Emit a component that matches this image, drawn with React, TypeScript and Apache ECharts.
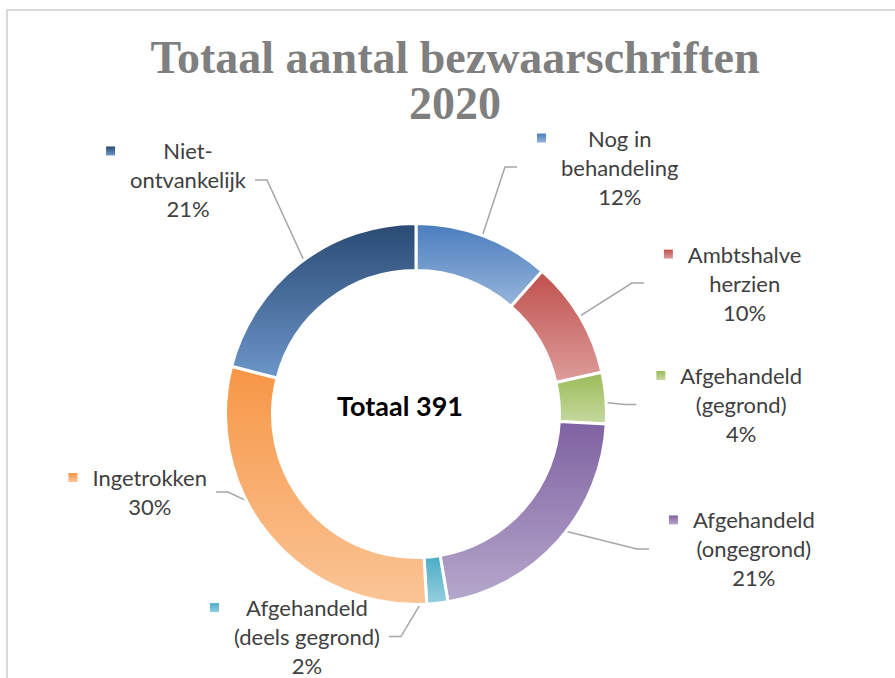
import React, { useEffect, useRef } from 'react';
import * as echarts from 'echarts';

// ---- data ----
const categories = [
  'Nog in\nbehandeling',
  'Ambtshalve\nherzien',
  'Afgehandeld\n(gegrond)',
  'Afgehandeld\n(ongegrond)',
  'Afgehandeld\n(deels gegrond)',
  'Ingetrokken',
  'Niet-\nontvankelijk',
];
const values = [45, 39, 17, 84, 7, 117, 82];
const titleLine1 = 'Totaal aantal bezwaarschriften';
const titleLine2 = '2020';
const centerWord = 'Totaal';

// ---- styles ----
const topColors = ['#4a7dbe', '#c0504d', '#9bbb59', '#7f62a2', '#4bacc6', '#f79646', '#2a4a73'];
const bottomColors = ['#97b5db', '#dd9d9b', '#c6d99f', '#b6a8cc', '#95cfde', '#fac597', '#6c95c9'];

// label-line geometry (distance along the slice's mid direction, horizontal shift, side)
const labelRadius = [264, 257, 113, 203, 224, 123, 296];
const labelShift = [7.6, 6.7, 107.7, 81.3, -52.2, -104.9, 20.2];
const labelSide = [1, 1, 1, 1, -1, -1, -1];

const CX = 416;
const CY = 414;
const R_IN = 143.5;
const R_OUT = 190.5;
const R_MID = 167;

const grad = (i: number) => ({
  type: 'linear',
  x: 0,
  y: 0,
  x2: 0,
  y2: 1,
  colorStops: [
    { offset: 0, color: topColors[i] },
    { offset: 1, color: bottomColors[i] },
  ],
});

export default function App() {
  const ref = useRef<HTMLDivElement>(null);

  useEffect(() => {
    if (!ref.current) return;
    const chart = echarts.init(ref.current, undefined, { renderer: 'svg' });
    const total = values.reduce((a, b) => a + b, 0);
    const pct = values.map((v) => Math.round((v / total) * 100));

    const rich: any = {
      t: {
        fontFamily: 'Lato',
        fontSize: 22,
        color: '#404040',
        lineHeight: 29,
        align: 'center',
      },
      g: { width: 15, align: 'left', lineHeight: 29 },
      p: { width: 24, align: 'left', lineHeight: 29 },
    };
    values.forEach((_, i) => {
      rich['m' + i] = {
        width: 9,
        height: 9,
        align: 'left',
        lineHeight: 29,
        backgroundColor: grad(i),
      };
    });

    const option: any = {
      animation: false,
      backgroundColor: '#ffffff',
      graphic: [
        {
          type: 'rect',
          silent: true,
          z: -10,
          shape: { x: 7, y: 10, width: 1400, height: 1400 },
          style: { fill: 'none', stroke: '#d9d9d9', lineWidth: 2 },
        },
        {
          type: 'text',
          silent: true,
          x: 455,
          y: 34,
          style: {
            text: titleLine1 + '\n' + titleLine2,
            fill: '#7f7f7f',
            font: 'bold 46px "Liberation Serif"',
            lineHeight: 46,
            align: 'center',
            textAlign: 'center',
            verticalAlign: 'top',
            textVerticalAlign: 'top',
          },
        },
        {
          type: 'text',
          silent: true,
          x: 400,
          y: 405,
          style: {
            text: centerWord + ' ' + total,
            fill: '#000000',
            font: 'bold 27px Lato',
            align: 'center',
            textAlign: 'center',
            verticalAlign: 'middle',
            textVerticalAlign: 'middle',
          },
        },
      ],
      series: [
        {
          type: 'pie',
          center: [CX, CY],
          radius: [R_IN, R_OUT],
          startAngle: 90,
          clockwise: true,
          avoidLabelOverlap: false,
          itemStyle: { borderColor: '#ffffff', borderWidth: 3 },
          emphasis: { disabled: true },
          label: {
            show: true,
            position: 'outside',
            fontFamily: 'Lato',
            fontSize: 22,
            lineHeight: 29,
            color: '#404040',
            formatter: (p: any) => {
              const i = p.dataIndex;
              const lines = [...categories[i].split('\n'), pct[i] + '%'];
              return lines
                .map((l, k) => (k === 0 ? `{m${i}|}{g|}{t|${l}}` : `{p|}{t|${l}}`))
                .join('\n');
            },
            rich,
          },
          labelLine: {
            show: true,
            length: 15,
            length2: 10,
            lineStyle: { color: '#a6a6a6', width: 1.5 },
          },
          labelLayout: (params: any) => {
            const i = params.dataIndex;
            let cum = 0;
            for (let k = 0; k < i; k++) cum += values[k];
            cum += values[i] / 2;
            const theta = (cum / total) * Math.PI * 2;
            const dx = Math.sin(theta);
            const dy = -Math.cos(theta);
            const px = CX + dx * labelRadius[i] + labelShift[i];
            const py = CY + dy * labelRadius[i];
            const side = labelSide[i];
            const start = [CX + dx * R_MID, CY + dy * R_MID];
            const bend = [px - side * 12, py];
            return {
              x: px + (side > 0 ? 20 : -9),
              y: py,
              align: side > 0 ? 'left' : 'right',
              verticalAlign: 'middle',
              labelLinePoints: [start, bend, [px, py]],
            };
          },
          data: categories.map((name, i) => ({
            name,
            value: values[i],
            itemStyle: { color: grad(i) },
          })),
        },
      ],
    };
    chart.setOption(option);
    return () => chart.dispose();
  }, []);

  return (
    <div
      ref={ref}
      style={{ position: 'fixed', left: 0, top: 0, width: 895, height: 678, background: '#fff' }}
    />
  );
}
